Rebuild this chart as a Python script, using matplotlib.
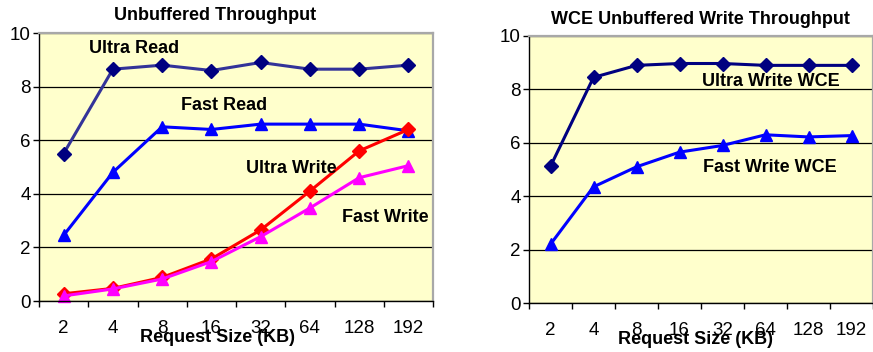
import numpy as np
import matplotlib
matplotlib.use("Agg")
import matplotlib.pyplot as plt

plt.rcParams['font.family'] = ['Liberation Sans', 'DejaVu Sans']

# request sizes (KB) and throughput values
sizes = ["2", "4", "8", "16", "32", "64", "128", "192"]

ultra_read = [5.5, 8.65, 8.8, 8.6, 8.9, 8.65, 8.65, 8.8]
fast_read = [2.45, 4.8, 6.5, 6.4, 6.6, 6.6, 6.6, 6.35]
ultra_write = [0.27, 0.47, 0.88, 1.57, 2.65, 4.1, 5.6, 6.4]
fast_write = [0.19, 0.45, 0.82, 1.47, 2.4, 3.47, 4.6, 5.05]

ultra_write_wce = [5.12, 8.45, 8.9, 8.97, 8.97, 8.9, 8.9, 8.9]
fast_write_wce = [2.2, 4.35, 5.1, 5.65, 5.9, 6.3, 6.22, 6.27]

W, H = 873, 352
fig = plt.figure(figsize=(W / 100, H / 100), dpi=100)

bg = "#FFFFCC"
x = np.arange(len(sizes))


def px_axes(x0, y0, x1, y1):
    return fig.add_axes([x0 / W, 1 - y1 / H, (x1 - x0) / W, (y1 - y0) / H])


def style(ax):
    ax.set_facecolor(bg)
    ax.set_xlim(-0.5, len(sizes) - 0.5)
    ax.set_ylim(0, 10)
    ax.set_yticks(np.arange(0, 11, 2))
    ax.yaxis.grid(True, color="black", lw=0.9)
    ax.set_axisbelow(True)
    # category boundaries get the tick marks, centres get the labels
    ax.set_xticks(np.arange(-0.5, len(sizes), 1.0))
    ax.set_xticklabels([])
    ax.set_xticks(x, minor=True)
    ax.set_xticklabels(sizes, minor=True)
    ax.tick_params(axis="x", which="major", direction="out", length=4, width=1)
    ax.tick_params(axis="x", which="minor", length=0, pad=14, labelsize=13.5)
    ax.tick_params(axis="y", direction="out", length=4, width=1, labelsize=13.5, pad=2)
    for s in ["top", "right"]:
        ax.spines[s].set_color("#A8A8A8")
        ax.spines[s].set_linewidth(1.6)
    for s in ["left", "bottom"]:
        ax.spines[s].set_color("black")
        ax.spines[s].set_linewidth(1.0)


lab = dict(fontsize=13, fontweight="bold", ha="center", va="center")

# left: unbuffered throughput
ax1 = px_axes(39, 33, 433, 301)
style(ax1)
ax1.plot(x, ultra_read, color="#333399", lw=2.2, marker="D", ms=7,
         mfc="#000080", mec="#000080", clip_on=False)
ax1.plot(x, fast_read, color="#0000FF", lw=2.2, marker="^", ms=9,
         mfc="#0000FF", mec="#0000FF", clip_on=False)
ax1.plot(x, ultra_write, color="#FF0000", lw=2.2, marker="D", ms=7,
         mfc="#FF0000", mec="#FF0000", clip_on=False)
ax1.plot(x, fast_write, color="#FF00FF", lw=2.2, marker="^", ms=9,
         mfc="#FF00FF", mec="#FF00FF", clip_on=False)
ax1.text(1.43, 9.44, "Ultra Read", **lab)
ax1.text(3.26, 7.31, "Fast Read", **lab)
ax1.text(4.62, 4.96, "Ultra Write", **lab)
ax1.text(6.53, 3.13, "Fast Write", **lab)

# right: WCE unbuffered write throughput
ax2 = px_axes(529, 36, 873, 303)
style(ax2)
ax2.plot(x, ultra_write_wce, color="#000080", lw=2.2, marker="D", ms=7,
         mfc="#000080", mec="#000080", clip_on=False)
ax2.plot(x, fast_write_wce, color="#0000FF", lw=2.2, marker="^", ms=9,
         mfc="#0000FF", mec="#0000FF", clip_on=False)
ax2.text(5.13, 8.28, "Ultra Write WCE", **lab)
ax2.text(5.10, 5.06, "Fast Write WCE", **lab)

# titles and axis captions
tkw = dict(fontsize=13, fontweight="bold", ha="center", va="center")
fig.text(215 / W, 1 - 16 / H, "Unbuffered Throughput", **tkw)
fig.text(700 / W, 1 - 20 / H, "WCE Unbuffered Write Throughput", **tkw)
fig.text(218 / W, 1 - 338 / H, "Request Size (KB)", **tkw)
fig.text(695 / W, 1 - 340 / H, "Request Size (KB)", **tkw)

fig.savefig("out.png", dpi=100, facecolor="white")
